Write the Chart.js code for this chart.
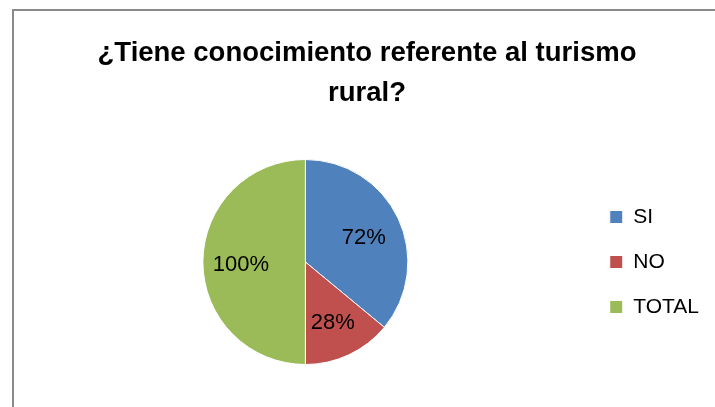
<!DOCTYPE html>
<html>
<head>
<meta charset="utf-8">
<script src="https://cdn.jsdelivr.net/npm/chart.js@4/dist/chart.umd.min.js"></script>
<style>
    html, body { margin: 0; padding: 0; background: #fff; overflow: hidden; }
    #wrap { position: relative; width: 715px; height: 407px; }
    #frame {
        position: absolute; left: 12px; top: 9px; width: 800px; height: 500px;
        border: 2px solid #8a8a8a; box-sizing: border-box; pointer-events: none;
    }
    canvas { position: absolute; left: 0; top: 0; }
</style>
</head>
<body>
<div id="wrap">
    <div id="frame"></div>
    <canvas id="pieChart" width="715" height="407"></canvas>
</div>
<script>
const titleLines = ['¿Tiene conocimiento referente al turismo', 'rural?'];
const categories = ['SI', 'NO', 'TOTAL'];
const values = [72, 28, 100];
const colors = ['#4f81bd', '#c0504d', '#9bbb59'];

// percentage labels inside the slices
const sliceLabels = {
    id: 'sliceLabels',
    afterDatasetsDraw: function (chart) {
        const ctx = chart.ctx;
        const meta = chart.getDatasetMeta(0);
        ctx.save();
        ctx.font = '22px "Liberation Sans", Arial, sans-serif';
        ctx.fillStyle = '#000';
        ctx.textAlign = 'center';
        ctx.textBaseline = 'middle';
        meta.data.forEach(function (arc, i) {
            const p = arc.getProps(['x', 'y', 'startAngle', 'endAngle', 'outerRadius'], true);
            const mid = (p.startAngle + p.endAngle) / 2;
            const r = p.outerRadius * 0.63;
            ctx.fillText(values[i] + '%', p.x + Math.cos(mid) * r, p.y + Math.sin(mid) * r + 3);
        });
        ctx.restore();
    }
};

const config = {
    type: 'pie',
    data: {
        labels: categories,
        datasets: [{
            data: values,
            backgroundColor: colors,
            borderColor: '#fff',
            borderWidth: 1
        }]
    },
    options: {
        responsive: false,
        animation: false,
        layout: {
            padding: {left: 25, right: 6, top: 0, bottom: 42}
        },
        plugins: {
            title: {
                display: true,
                text: titleLines,
                color: '#000',
                font: {family: '"Liberation Sans", Arial, sans-serif', size: 27.5, weight: 'bold', lineHeight: 40 / 27.5},
                padding: {top: 33, bottom: 46}
            },
            legend: {
                position: 'right',
                fullSize: false,
                labels: {
                    color: '#000',
                    boxWidth: 13,
                    boxHeight: 13,
                    padding: 24,
                    font: {family: '"Liberation Sans", Arial, sans-serif', size: 21}
                }
            },
            tooltip: {enabled: false}
        }
    },
    plugins: [sliceLabels]
};

const pieCtx = document.getElementById('pieChart').getContext('2d');
window.pieChart = new Chart(pieCtx, config);
</script>
</body>
</html>
